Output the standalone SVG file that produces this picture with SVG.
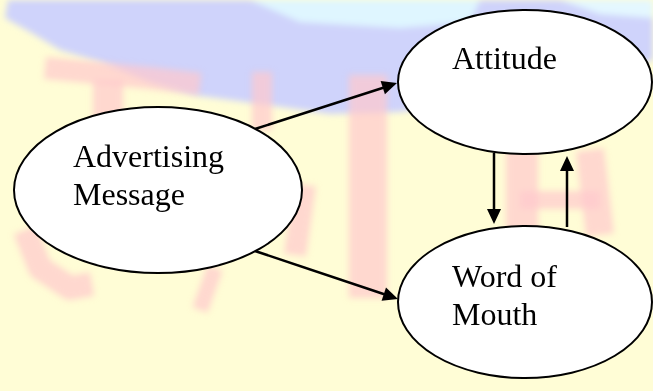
<svg xmlns="http://www.w3.org/2000/svg" width="653" height="391" viewBox="0 0 653 391">
  <defs>
    <style>
      .node { fill: #ffffff; stroke: #000000; stroke-width: 2; }
      .lbl { font-family: "Liberation Serif", "Times New Roman", serif; font-size: 32px; fill: #000000; }
      .edge { stroke: #000000; stroke-width: 2.5; fill: none; }
      .head { fill: #000000; stroke: none; }
      .wm { fill: none; stroke: #ffc8cc; stroke-linecap: butt; stroke-linejoin: round; opacity: 0.7; }
    </style>
    <filter id="soft" x="-10%" y="-10%" width="120%" height="120%">
      <feGaussianBlur stdDeviation="3"/>
    </filter>
  </defs>

  <g id="background">
    <rect x="0" y="0" width="653" height="391" fill="#fffdd6"/>
    <g filter="url(#soft)">
      <path d="M8,0 L653,0 L653,60 L620,70 L560,80 L470,100 L400,112 L330,114 L260,104 L200,96 L150,82 L100,62 L60,50 L30,32 L5,18 z" fill="#cfd3fb"/>
      <path d="M250,0 L480,0 L470,22 L400,28 L300,22 z" fill="#dff6ff"/>
      <path d="M560,0 L653,0 L653,18 L600,14 z" fill="#e4f8ff"/>
    </g>
    <g filter="url(#soft)">
      <path class="wm" stroke-width="22" d="M45,68 L150,78 L200,84"/>
      <path class="wm" stroke-width="30" d="M108,80 L108,250"/>
      <path class="wm" stroke-width="24" d="M25,230 L40,268 L70,288 L92,284"/>
      <path class="wm" stroke-width="16" d="M215,268 L200,310"/>
      <path class="wm" stroke-width="20" d="M262,72 L262,130"/>
      <path class="wm" stroke-width="22" d="M305,185 L295,255"/>
      <path class="wm" stroke-width="38" d="M368,75 L368,298"/>
      <path class="wm" stroke-width="32" d="M522,150 L522,230"/>
      <path class="wm" stroke-width="28" d="M590,150 L600,235"/>
      <path class="wm" stroke-width="18" d="M520,200 L600,200"/>
    </g>
  </g>

  <g id="connectors">
    <line class="edge" x1="255" y1="129" x2="384" y2="87.5"/>
    <polygon class="head" points="397,83 384.9,94.3 380.6,81"/>
    <line class="edge" x1="255" y1="251" x2="385" y2="294.5"/>
    <polygon class="head" points="398,299 381.6,300.8 386,287.6"/>
    <line class="edge" x1="494" y1="153" x2="494" y2="211"/>
    <polygon class="head" points="487,209 501,209 494,224"/>
    <line class="edge" x1="567" y1="227" x2="567" y2="169"/>
    <polygon class="head" points="560,171 574,171 567,156"/>
  </g>

  <g id="advertising-message">
    <ellipse class="node" cx="158" cy="190" rx="144" ry="83"/>
    <text class="lbl" x="73" y="167">Advertising</text>
    <text class="lbl" x="73" y="205">Message</text>
  </g>

  <g id="attitude">
    <ellipse class="node" cx="525" cy="82" rx="127" ry="72"/>
    <text class="lbl" x="452" y="69">Attitude</text>
  </g>

  <g id="word-of-mouth">
    <ellipse class="node" cx="525" cy="302" rx="127" ry="76"/>
    <text class="lbl" x="452" y="287">Word of</text>
    <text class="lbl" x="452" y="325">Mouth</text>
  </g>
</svg>
